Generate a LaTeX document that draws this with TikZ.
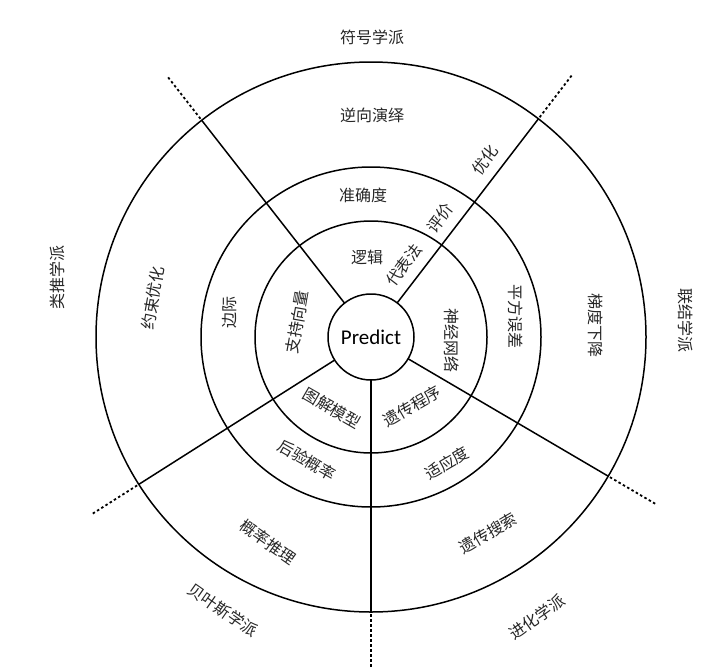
\documentclass[tikz,border=0pt]{standalone}
\usepackage{fontspec}
\usetikzlibrary{calc}
\setmainfont{Carlito}
\newfontfamily\cjk{Noto Sans CJK SC}
\begin{document}
\begin{tikzpicture}[x=1pt,y=-1pt,
  ring/.style={line width=1.5pt},
  dot/.style={line width=1.8pt,dash pattern=on 2.5pt off 2.5pt},
  lab/.style={font=\cjk\fontsize{16}{16}\selectfont,inner sep=0pt,text=black!85}]
\useasboundingbox (0,0) rectangle (720,670);
\coordinate (c) at (371,337);
\draw[ring] (c) circle[radius=43];
\draw[ring] (c) circle[radius=116];
\draw[ring] (c) circle[radius=170];
\draw[ring] (c) circle[radius=275];
\foreach \a in {-128,-52.5,30.4,147.6,90}{
  \draw[ring] ($(c)+(\a:43)$) -- ($(c)+(\a:275)$);
  \draw[dot] ($(c)+(\a:277)$) -- ($(c)+(\a:330)$);
}
\node[font=\fontsize{21}{21}\selectfont] (p) at (c) {Predict};
\node[lab] (t1) at (372,37) {符号学派};
\node[lab] (t2) at (372,115) {逆向演绎};
\node[lab] (t3) at (363,195) {准确度};
\node[lab] (t4) at (367,257) {逻辑};
\node[lab,rotate=52.5] (t5) at (404,265) {代表法};
\node[lab,rotate=52.5] (t6) at (440,218) {评价};
\node[lab,rotate=52.5] (t7) at (485,160) {优化};
\node[lab,rotate=-90] (t8) at (452,340) {神经网络};
\node[lab,rotate=-90] (t9) at (516,316) {平方误差};
\node[lab,rotate=-90] (t10) at (596,325) {梯度下降};
\node[lab,rotate=-90] (t11) at (686,320) {联结学派};
\node[lab,rotate=90] (t12) at (57,277) {类推学派};
\node[lab,rotate=80] (t13) at (153,298) {约束优化};
\node[lab,rotate=90] (t14) at (230,312) {边际};
\node[lab,rotate=80] (t15) at (297,322) {支持向量};
\node[lab,rotate=-30] (t16) at (332,408) {图解模型};
\node[lab,rotate=30] (t17) at (412,406) {遗传程序};
\node[lab,rotate=-30] (t18) at (307,460) {后验概率};
\node[lab,rotate=30] (t19) at (447,463) {适应度};
\node[lab,rotate=-35] (t20) at (268,542) {概率推理};
\node[lab,rotate=30] (t21) at (488,533) {遗传搜索};
\node[lab,rotate=-35] (t22) at (223,610) {贝叶斯学派};
\node[lab,rotate=35] (t23) at (537,617) {进化学派};
\end{tikzpicture}
\end{document}
